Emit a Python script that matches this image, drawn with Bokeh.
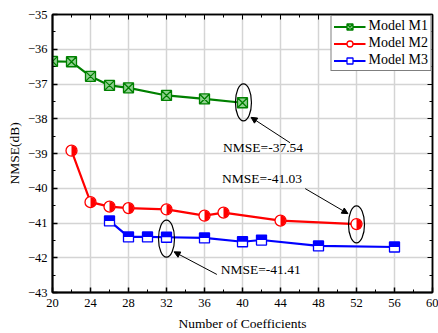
import numpy as np
from bokeh.plotting import figure
from bokeh.models import (Range1d, LinearAxis, SingleIntervalTicker, Legend, LegendItem,
                          Arrow, NormalHead, CustomJSTickFormatter)
from bokeh.core.properties import value
from bokeh.embed import file_html
from bokeh.resources import INLINE

# ---- data ----
m1_x = [20, 22, 24, 26, 28, 32, 36, 40]
m1_y = [-36.35, -36.36, -36.78, -37.04, -37.11, -37.33, -37.43, -37.54]
m2_x = [22, 24, 26, 28, 32, 36, 38, 44, 52]
m2_y = [-38.92, -40.40, -40.53, -40.57, -40.61, -40.79, -40.70, -40.93, -41.03]
m3_x = [26, 28, 30, 32, 36, 40, 42, 48, 56]
m3_y = [-40.94, -41.40, -41.40, -41.41, -41.43, -41.54, -41.49, -41.66, -41.69]
series_names = ["Model M1", "Model M2", "Model M3"]
x_label = "Number of Coefficients"
y_label = "NMSE(dB)"
# annotation texts, arrows and ellipses
ann_text = ["NMSE=-37.54", "NMSE=-41.03", "NMSE=-41.41"]
ann_tx = [37.95, 37.85, 37.7]
ann_ty = [-38.84, -39.71, -42.33]
ann_sx = [45.0, 46.6, 37.3]
ann_sy = [-38.69, -40.01, -42.48]
ann_ex = [40.9, 51.1, 32.8]
ann_ey = [-37.96, -40.73, -41.83]
ell_x = [40.1, 52.0, 32.0]
ell_y = [-37.53, -41.04, -41.45]

FONT = "Liberation Serif"
GREEN, RED, BLUE = "#008000", "#ff0000", "#0000ff"

p = figure(width=438, height=333, output_backend="svg", toolbar_location=None,
           x_range=Range1d(20, 60), y_range=Range1d(-43, -35),
           min_border_left=52, min_border_right=6, min_border_top=14, min_border_bottom=40)
p.background_fill_color = "white"
p.border_fill_color = "white"
p.outline_line_color = "black"
p.outline_line_width = 1.5

for ax, step in ((p.xaxis[0], 4), (p.yaxis[0], 1)):
    ax.ticker = SingleIntervalTicker(interval=step, num_minor_ticks=2)
    ax.major_tick_in = 5
    ax.major_tick_out = 0
    ax.minor_tick_in = 3
    ax.minor_tick_out = 0
    ax.axis_line_width = 2
    ax.major_tick_line_width = 1.5
    ax.major_label_text_font = FONT
    ax.major_label_text_font_size = "12.5px"
    ax.major_label_text_color = "black"
    ax.axis_label_text_font = FONT
    ax.axis_label_text_font_size = "13.5px"
    ax.axis_label_text_font_style = "normal"
    ax.axis_label_text_color = "black"
p.xaxis[0].axis_label = x_label
p.yaxis[0].axis_label = y_label
p.xaxis[0].major_label_standoff = 6
p.xaxis[0].axis_label_standoff = 6
p.yaxis[0].major_label_standoff = 5
p.yaxis[0].axis_label_standoff = 3

blank = CustomJSTickFormatter(code="return '';")
for loc, step in (("right", 1), ("above", 4)):
    ax = LinearAxis(ticker=SingleIntervalTicker(interval=step, num_minor_ticks=2),
                    major_tick_in=5, major_tick_out=0, minor_tick_in=3, minor_tick_out=0,
                    formatter=blank, major_label_standoff=0,
                    axis_line_width=1.5)
    p.add_layout(ax, loc)

p.xgrid.ticker = SingleIntervalTicker(interval=4)
p.ygrid.ticker = SingleIntervalTicker(interval=1)
p.xgrid.grid_line_color = "#d4d4d4"
p.ygrid.grid_line_color = "#d4d4d4"
p.xgrid.grid_line_width = 1.5
p.ygrid.grid_line_width = 1.5

# ---- M1 ----
l1 = p.line(m1_x, m1_y, line_color=GREEN, line_width=2.2)
s1 = p.scatter(m1_x, m1_y, marker="square_x", size=10, line_color=GREEN,
               fill_color="#8fd08f", line_width=1.3)

# ---- M2 (half-filled circle) ----
l2 = p.line(m2_x, m2_y, line_color=RED, line_width=2.2)
s2 = p.scatter(m2_x, m2_y, marker="circle", size=11, line_color=RED, fill_color="white",
               line_width=1.3)
p.wedge(m2_x, m2_y, radius=5.2, radius_units="screen", start_angle=-np.pi / 2,
        end_angle=np.pi / 2, fill_color=RED, line_color=None)

# ---- M3 (top-half-filled square) ----
l3 = p.line(m3_x, m3_y, line_color=BLUE, line_width=2.2)
s3 = p.scatter(m3_x, m3_y, marker="square", size=10, line_color=BLUE, fill_color="white",
               line_width=1.3)
half_h = 10 / 34.9 / 2
p.rect(m3_x, [v + half_h / 2 for v in m3_y], width=10, width_units="screen",
       height=half_h, fill_color=BLUE, line_color=None)

# ---- annotations ----
p.ellipse(ell_x, ell_y, width=16, height=37, width_units="screen", height_units="screen",
          fill_color=None, line_color="black", line_width=1.2)
p.text(ann_tx, ann_ty, text=ann_text, text_font=value(FONT), text_font_size="13.5px",
       text_baseline="middle", text_align="left", text_color="black")
for sx, sy, ex, ey in zip(ann_sx, ann_sy, ann_ex, ann_ey):
    p.add_layout(Arrow(end=NormalHead(size=6, fill_color="black", line_color="black"),
                       x_start=sx, y_start=sy, x_end=ex, y_end=ey,
                       line_color="black", line_width=1))

legend = Legend(items=[LegendItem(label=series_names[0], renderers=[l1, s1]),
                       LegendItem(label=series_names[1], renderers=[l2, s2]),
                       LegendItem(label=series_names[2], renderers=[l3, s3])],
                location="top_right", border_line_color="black", border_line_width=1.2,
                label_text_font=FONT, label_text_font_size="14px", label_text_color="black",
                glyph_width=32, glyph_height=15, label_height=15, spacing=1,
                padding=2, margin=1, label_standoff=3, background_fill_alpha=1)
p.add_layout(legend)

open("out.html", "w").write(file_html(p, INLINE))
